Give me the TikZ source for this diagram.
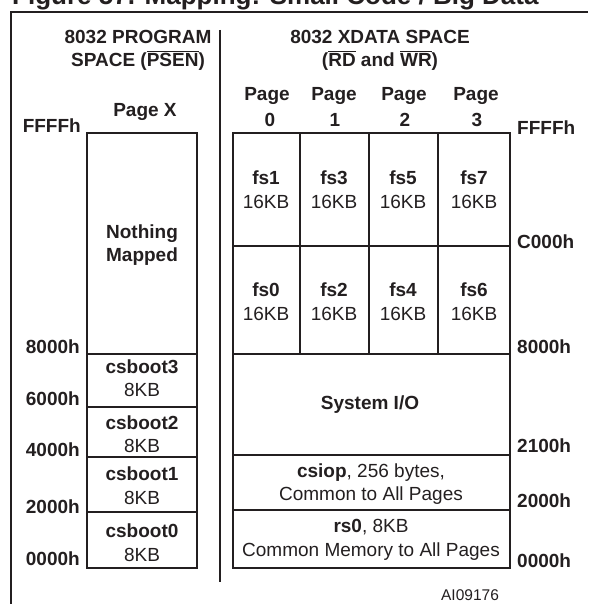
\documentclass[tikz,border=0pt]{standalone}
\usepackage{fontspec}
\setmainfont{Liberation Sans}
\usepackage{xcolor}
\usepackage{tikz}
\usetikzlibrary{positioning}

\definecolor{ink}{HTML}{231F20}
\newcommand{\barsig}[1]{\ensuremath{\overline{\mbox{#1}}}}

\tikzset{
    title/.style={font=\fontsize{26}{30}\selectfont\bfseries, text=ink, inner sep=0pt},
    head/.style={font=\fontsize{19}{23}\selectfont\bfseries, text=ink, align=center, inner sep=0pt},
    addr/.style={font=\fontsize{19}{23}\selectfont\bfseries, text=ink, inner sep=0pt},
    cell/.style={font=\fontsize{19}{23.5}\selectfont, text=ink, align=center, inner sep=0pt},
    tag/.style={font=\fontsize{15.5}{18}\selectfont, text=ink, inner sep=0pt},
    frame/.style={draw=ink, line width=2.4pt},
    divider/.style={draw=ink, line width=1.5pt},
    box/.style={draw=ink, line width=1.8pt},
    grid/.style={draw=ink, line width=1.5pt}
}

\begin{document}
\begin{tikzpicture}[x=1pt,y=-1pt]

        \useasboundingbox (0,0) rectangle (588,604);
        \clip (0,0) rectangle (588,604);

        % Title, cut off at the top
        \node[title, anchor=base west] (title) at (12,5) {Figure 57. Mapping: Small Code / Big Data};

        % Frame and divider
        \draw[frame] (11,604) -- (11,12) -- (588,12);
        \draw[divider] (220,30) -- (220,582);

        % Headings
        \node[head] (progspace) at (138,50) {8032 PROGRAM\\SPACE (\barsig{PSEN})};
        \node[head] (xdataspace) at (380,50) {8032 XDATA SPACE\\(\barsig{RD} and \barsig{WR})};
        \node[head] (pagex) at (145,112) {Page X};

        % Page numbers
        \node[head, anchor=base] (page0) at (267,101) {Page};
        \node[head, anchor=base] (page1) at (334,101) {Page};
        \node[head, anchor=base] (page2) at (404,101) {Page};
        \node[head, anchor=base] (page3) at (476,101) {Page};
        \node[head, anchor=base] (num0) at (270,127) {0};
        \node[head, anchor=base] (num1) at (335,127) {1};
        \node[head, anchor=base] (num2) at (405,127) {2};
        \node[head, anchor=base] (num3) at (477,127) {3};

        % Program space
        \draw[box] (87,133) rectangle (197,568);
        \draw[box] (87,354) -- (197,354);
        \draw[box] (87,407) -- (197,407);
        \draw[box] (87,457) -- (197,457);
        \draw[box] (87,512) -- (197,512);

        \node[cell, font=\fontsize{19}{23}\selectfont\bfseries] (nothing) at (142,245.5) {Nothing\\Mapped};
        \node[cell] (csboot3) at (142,378) {\textbf{csboot3}\\8KB};
        \node[cell] (csboot2) at (142,434) {\textbf{csboot2}\\8KB};
        \node[cell] (csboot1) at (142,485.5) {\textbf{csboot1}\\8KB};
        \node[cell] (csboot0) at (142,542.5) {\textbf{csboot0}\\8KB};

        % Program space addresses
        \node[addr, anchor=base east] (pfffff) at (81,133) {FFFFh};
        \node[addr, anchor=base east] (p8000) at (80,353) {8000h};
        \node[addr, anchor=base east] (p6000) at (80,405) {6000h};
        \node[addr, anchor=base east] (p4000) at (80,456) {4000h};
        \node[addr, anchor=base east] (p2000) at (80,513) {2000h};
        \node[addr, anchor=base east] (p0000) at (80,565) {0000h};

        % XDATA space
        \draw[box] (233,133) rectangle (510,568);
        \draw[grid] (300,133) -- (300,354);
        \draw[grid] (369,133) -- (369,354);
        \draw[grid] (438,133) -- (438,354);
        \draw[grid] (233,246) -- (510,246);
        \draw[box] (233,354) -- (510,354);
        \draw[grid] (233,455) -- (510,455);
        \draw[grid] (233,510) -- (510,510);

        \node[cell] (fs1) at (266,189.5) {\textbf{fs1}\\16KB};
        \node[cell] (fs3) at (334,189.5) {\textbf{fs3}\\16KB};
        \node[cell] (fs5) at (403,189.5) {\textbf{fs5}\\16KB};
        \node[cell] (fs7) at (474,189.5) {\textbf{fs7}\\16KB};
        \node[cell] (fs0) at (266,301.5) {\textbf{fs0}\\16KB};
        \node[cell] (fs2) at (334,301.5) {\textbf{fs2}\\16KB};
        \node[cell] (fs4) at (403,301.5) {\textbf{fs4}\\16KB};
        \node[cell] (fs6) at (474,301.5) {\textbf{fs6}\\16KB};

        \node[cell, font=\fontsize{19}{23}\selectfont\bfseries] (sysio) at (370,405) {System I/O};
        \node[cell] (csiop) at (371,484) {\textbf{csiop}, 256 bytes,\\Common to All Pages};
        \node[cell] (rs0) at (371,540) {\textbf{rs0}, 8KB\\Common Memory to All Pages};

        % XDATA space addresses
        \node[addr, anchor=base west] (xffff) at (517,135) {FFFFh};
        \node[addr, anchor=base west] (xc000) at (517,248) {C000h};
        \node[addr, anchor=base west] (x8000) at (517,353) {8000h};
        \node[addr, anchor=base west] (x2100) at (517,452) {2100h};
        \node[addr, anchor=base west] (x2000) at (517,507) {2000h};
        \node[addr, anchor=base west] (x0000) at (517,567) {0000h};

        % Figure code
        \node[tag] (figcode) at (470,595) {AI09176};

    \end{tikzpicture}
\end{document}
